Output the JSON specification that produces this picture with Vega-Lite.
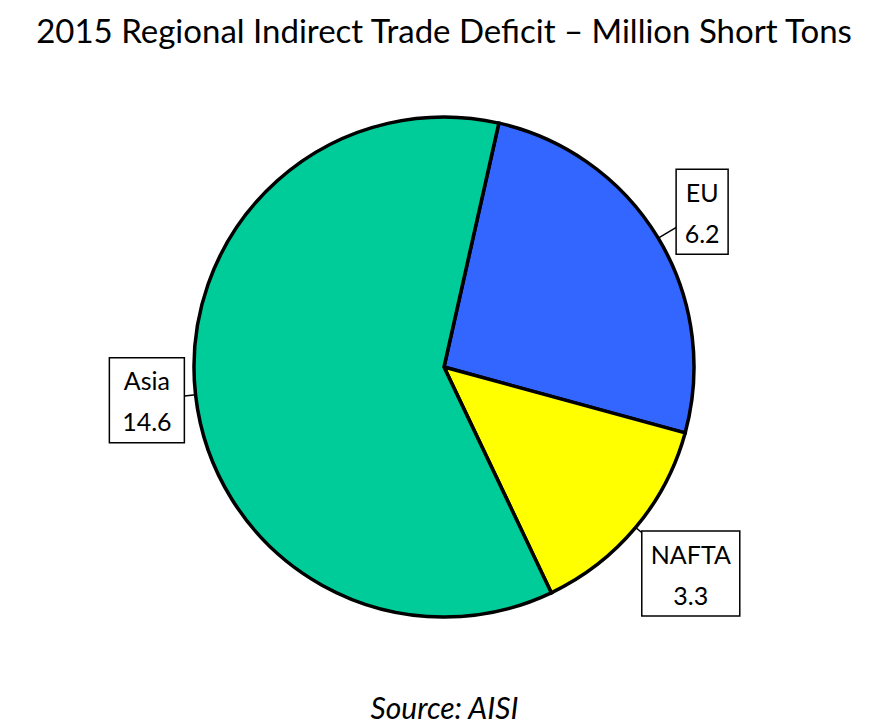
{
  "$schema": "https://vega.github.io/schema/vega-lite/v6.json",
  "background": "white",
  "padding": {"top": 17, "left": 4, "right": 0, "bottom": 0},
  "width": 880,
  "height": 618,
  "title": {
    "text": "2015 Regional Indirect Trade Deficit – Million Short Tons",
    "font": "Lato",
    "fontSize": 33,
    "fontWeight": "normal",
    "color": "black",
    "anchor": "middle",
    "offset": 8
  },
  "data": {
    "values": [
      {"region": "EU", "value": 6.2},
      {"region": "NAFTA", "value": 3.3},
      {"region": "Asia", "value": 14.6}
    ]
  },
  "transform": [
    {"window": [{"op": "sum", "field": "value", "as": "cum"}], "sort": [{"field": "region", "order": "ascending"}], "frame": [null, 0]},
    {"joinaggregate": [{"op": "sum", "field": "value", "as": "total"}]},
    {"calculate": "2.698 + 2 * PI * (datum.cum - datum.value / 2) / datum.total", "as": "mid"},
    {"calculate": "format(datum.value, '.1f')", "as": "vlabel"},
    {"calculate": "(23 * max(length(datum.region), length(datum.vlabel)) - 17) / 2", "as": "hw"},
    {"calculate": "257 + abs(sin(datum.mid)) * datum.hw + abs(cos(datum.mid)) * 42.5", "as": "d"},
    {"calculate": "datum.d * sin(datum.mid)", "as": "cx"},
    {"calculate": "datum.d * cos(datum.mid)", "as": "cy"},
    {"calculate": "datum.cx - datum.hw", "as": "bx1"},
    {"calculate": "datum.cx + datum.hw", "as": "bx2"},
    {"calculate": "datum.cy - 42.5", "as": "by1"},
    {"calculate": "datum.cy + 42.5", "as": "by2"},
    {"calculate": "250 * sin(datum.mid)", "as": "lx1"},
    {"calculate": "250 * cos(datum.mid)", "as": "ly1"},
    {"calculate": "272 * sin(datum.mid)", "as": "lx2"},
    {"calculate": "272 * cos(datum.mid)", "as": "ly2"}
  ],
  "layer": [
    {
      "mark": {"type": "arc", "outerRadius": 250, "stroke": "black", "strokeWidth": 3.5},
      "encoding": {
        "theta": {"field": "value", "type": "quantitative", "stack": true, "scale": {"range": [2.698, 8.9812]}},
        "order": {"field": "region", "type": "nominal", "sort": "ascending"},
        "color": {
          "field": "region",
          "type": "nominal",
          "scale": {"domain": ["Asia", "EU", "NAFTA"], "range": ["#00CC99", "#3366FF", "#FFFF00"]},
          "legend": null
        }
      }
    },
    {
      "mark": {"type": "rule", "stroke": "black", "strokeWidth": 1.5},
      "encoding": {
        "x": {"field": "lx1", "type": "quantitative", "scale": {"domain": [-440, 440], "nice": false, "zero": false}, "axis": {"title": "Source: AISI"}},
        "y": {"field": "ly1", "type": "quantitative", "scale": {"domain": [-309, 309], "nice": false, "zero": false}, "axis": null},
        "x2": {"field": "lx2"},
        "y2": {"field": "ly2"}
      }
    },
    {
      "mark": {"type": "rect", "fill": "white", "stroke": "black", "strokeWidth": 1.5},
      "encoding": {
        "x": {"field": "bx1", "type": "quantitative", "scale": {"domain": [-440, 440], "nice": false, "zero": false}, "axis": {"title": "Source: AISI"}},
        "y": {"field": "by1", "type": "quantitative", "scale": {"domain": [-309, 309], "nice": false, "zero": false}, "axis": null},
        "x2": {"field": "bx2"},
        "y2": {"field": "by2"}
      }
    },
    {
      "mark": {"type": "text", "font": "Lato", "fontSize": 25, "color": "black", "baseline": "alphabetic", "align": "center", "dy": -10},
      "encoding": {
        "x": {"field": "cx", "type": "quantitative", "scale": {"domain": [-440, 440], "nice": false, "zero": false}, "axis": {"title": "Source: AISI"}},
        "y": {"field": "cy", "type": "quantitative", "scale": {"domain": [-309, 309], "nice": false, "zero": false}, "axis": null},
        "text": {"field": "region", "type": "nominal"}
      }
    },
    {
      "mark": {"type": "text", "font": "Lato", "fontSize": 25, "color": "black", "baseline": "alphabetic", "align": "center", "dy": 31},
      "encoding": {
        "x": {"field": "cx", "type": "quantitative", "scale": {"domain": [-440, 440], "nice": false, "zero": false}, "axis": {"title": "Source: AISI"}},
        "y": {"field": "cy", "type": "quantitative", "scale": {"domain": [-309, 309], "nice": false, "zero": false}, "axis": null},
        "text": {"field": "vlabel", "type": "nominal"}
      }
    }
  ],
  "config": {
    "view": {"stroke": null},
    "axisX": {
      "domain": false,
      "ticks": false,
      "labels": false,
      "grid": false,
      "titleFont": "Lato",
      "titleFontSize": 30,
      "titleFontStyle": "italic",
      "titleFontWeight": "normal",
      "titleColor": "black",
      "titlePadding": 18
    }
  }
}
